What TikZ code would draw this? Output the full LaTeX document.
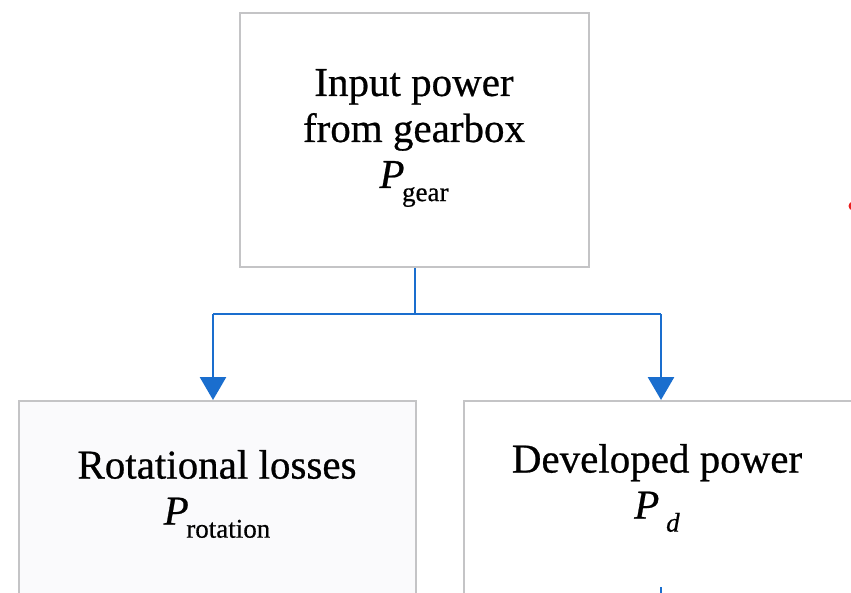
\documentclass[tikz,border=0pt]{standalone}
\usepackage{fontspec}
\setmainfont{Liberation Serif}[UprightFeatures={FakeBold=0.6}, ItalicFeatures={FakeBold=0.6}]
\usetikzlibrary{arrows.meta}
\definecolor{linkblue}{RGB}{26,110,206}
\definecolor{boxgray}{RGB}{196,196,198}
\definecolor{boxfill}{RGB}{250,250,252}
\definecolor{markred}{RGB}{235,30,30}
\newcommand{\subtxt}[1]{\raisebox{-0.32em}{\fontsize{27}{27}\selectfont #1}}
\tikzset{
  boxnode/.style={draw=boxgray, line width=2.2pt, fill=white, inner sep=0pt, anchor=north west},
  txtnode/.style={align=center, font=\fontsize{41}{46}\selectfont, inner sep=0pt},
  flow/.style={draw=linkblue, line width=2.8pt, -{Triangle[length=23pt,width=26pt]}},
  flowline/.style={draw=linkblue, line width=2.8pt}
}
\begin{document}
\begin{tikzpicture}[x=1pt,y=-1pt]
\useasboundingbox (0,0) rectangle (851,592);
\begin{scope}
\clip (0,0) rectangle (851,592);
% boxes
\node[boxnode, minimum width=349pt, minimum height=254pt] (top) at (239,12) {};
\node[boxnode, fill=boxfill, minimum width=397pt, minimum height=230pt] (rot) at (18,400) {};
\node[boxnode, minimum width=420pt, minimum height=230pt] (dev) at (463,400) {};
% texts
\node[txtnode] (toptxt) at (414,138) {Input power\\from gearbox\\\textit{P}\kern-0.06em\subtxt{gear}};
\node[txtnode] (rottxt) at (217,494) {Rotational losses\\\textit{P}\kern-0.06em\subtxt{rotation}};
\node[txtnode] (devtxt) at (657,488) {Developed power\\\textit{P}\,\subtxt{\textit{d}}};
% connectors
\coordinate (split) at (415,314);
\coordinate (lft) at (213,314);
\coordinate (rgt) at (661,314);
\draw[flowline] (top.south -| split) -- (split);
\draw[flowline] (lft) -- (rgt);
\draw[flow] (lft) -- (lft |- rot.north);
\draw[flow] (rgt) -- (rgt |- dev.north);
\coordinate (tickend) at (661,600);
\draw[flowline] (661,587) -- (tickend);
% red mark at right edge
\fill[markred] (853,206) circle (4.5pt);
\end{scope}
\end{tikzpicture}
\end{document}
